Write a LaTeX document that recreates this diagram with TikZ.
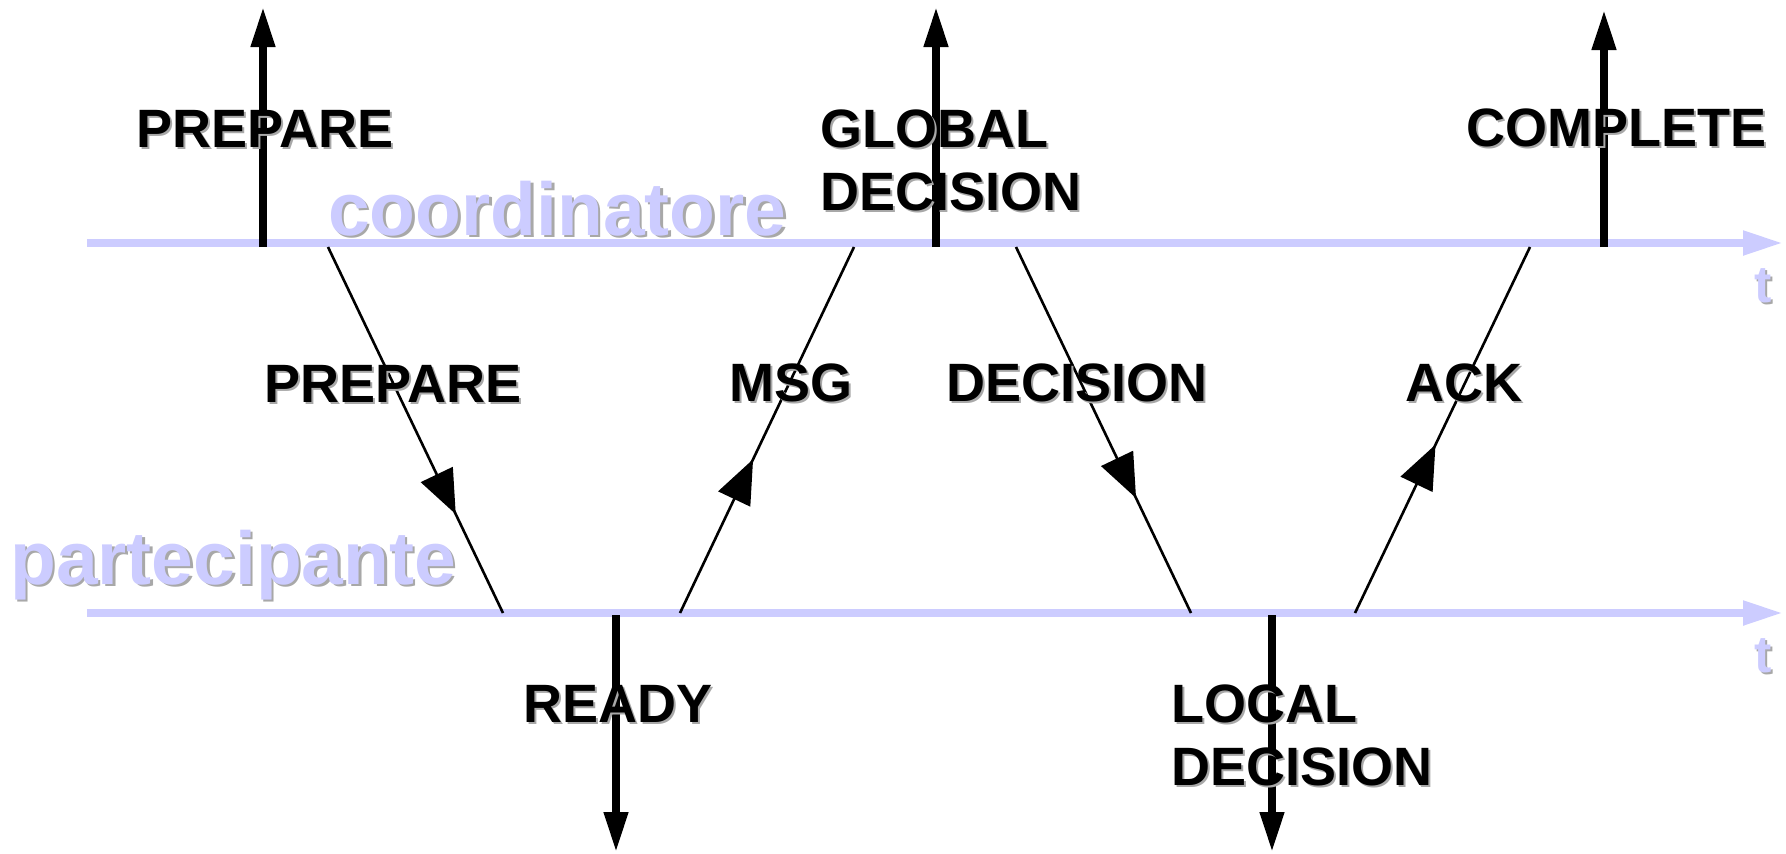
\documentclass[tikz,border=0pt]{standalone}
\usepackage{fontspec}
\setmainfont{Liberation Sans}
\usetikzlibrary{arrows.meta,decorations.markings}
\definecolor{lav}{HTML}{CCCCFF}
\definecolor{shade}{HTML}{A8A8A8}
% text with a soft grey drop shadow
\newcommand{\shtxt}[1]{\rlap{\kern2.5pt\raisebox{-2.5pt}{\color{shade}#1}}#1}

\begin{document}
\begin{tikzpicture}[x=1pt,y=-1pt,
  timeline/.style={draw=lav,line width=8pt,-{Triangle[length=40pt,width=23pt]}},
  event/.style={draw=black,line width=7.5pt,-{Triangle[length=40pt,width=23pt]}},
  msg/.style={draw=black,line width=2.6pt,postaction={decorate},
    decoration={markings,mark=at position #1 with {\arrow{Triangle[length=44pt,width=35pt]}}}},
  lbl/.style={inner sep=0pt,anchor=base west,font=\fontsize{54}{63}\selectfont\bfseries,align=left},
  role/.style={inner sep=0pt,anchor=base west,text=lav,font=\fontsize{75}{80}\selectfont\bfseries},
  tlbl/.style={inner sep=0pt,anchor=base,text=lav,font=\fontsize{52}{60}\selectfont\bfseries},
]
\useasboundingbox (0,0) rectangle (1786,854);

% time axes
\coordinate (c0) at (87,243);   \coordinate (c1) at (1783,243);
\coordinate (q0) at (87,613);   \coordinate (q1) at (1783,613);
\draw[timeline] (c0) -- (c1);
\draw[timeline] (q0) -- (q1);

% messages between coordinator and participant
\coordinate (p1) at (328,247);  \coordinate (p2) at (503,613);
\coordinate (m1) at (680,613);  \coordinate (m2) at (854,247);
\coordinate (d1) at (1016,247); \coordinate (d2) at (1191,613);
\coordinate (a1) at (1355,613); \coordinate (a2) at (1530,247);
\draw[msg=0.73]  (p1) -- (p2);
\draw[msg=0.42]  (m1) -- (m2);
\draw[msg=0.686] (d1) -- (d2);
\draw[msg=0.46]  (a1) -- (a2);

% log writes
\coordinate (e1a) at (263,247);  \coordinate (e1b) at (263,7);
\coordinate (e2a) at (936,247);  \coordinate (e2b) at (936,7);
\coordinate (e3a) at (1604,247); \coordinate (e3b) at (1604,10);
\coordinate (e4a) at (616,615);  \coordinate (e4b) at (616,852);
\coordinate (e5a) at (1272,615); \coordinate (e5b) at (1272,852);
\draw[event] (e1a) -- (e1b);
\draw[event] (e2a) -- (e2b);
\draw[event] (e3a) -- (e3b);
\draw[event] (e4a) -- (e4b);
\draw[event] (e5a) -- (e5b);

% roles and axis labels
\node[role] (coord) at (328,235) {\shtxt{coordinatore}};
\node[role] (part) at (10,584) {\shtxt{partecipante}};
\node[tlbl] (t1) at (1763,302) {\shtxt{t}};
\node[tlbl] (t2) at (1763,672) {\shtxt{t}};

% record and message labels
\node[lbl] (lprep) at (136,147) {\shtxt{PREPARE}};
\node[lbl] (lglob) at (820,210) {\shtxt{GLOBAL}\\\shtxt{DECISION}};
\node[lbl] (lcomp) at (1466,146) {\shtxt{COMPLETE}};
\node[lbl] (mprep) at (264,402) {\shtxt{PREPARE}};
\node[lbl] (mmsg) at (729,401) {\shtxt{MSG}};
\node[lbl] (mdec) at (946,401) {\shtxt{DECISION}};
\node[lbl] (mack) at (1405,401) {\shtxt{ACK}};
\node[lbl] (lready) at (523,722) {\shtxt{READY}};
\node[lbl] (lloc) at (1171,785) {\shtxt{LOCAL}\\\shtxt{DECISION}};
\end{tikzpicture}
\end{document}
